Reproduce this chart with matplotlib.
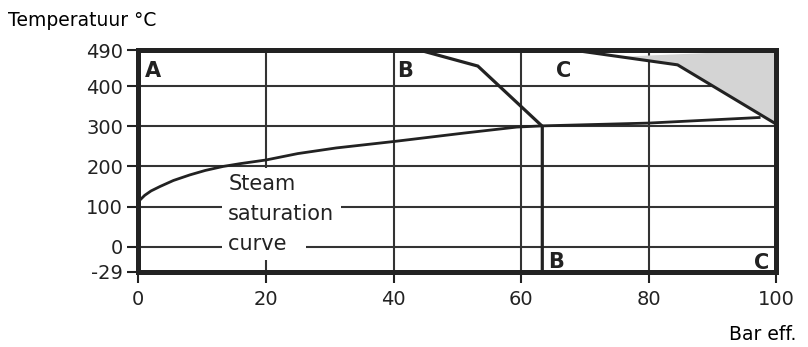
import matplotlib
matplotlib.use('Agg')
import matplotlib.pyplot as plt
import numpy as np

plt.rcParams['axes.unicode_minus'] = False

# ----- data -----
x_ticks = [0, 20, 40, 60, 80, 100]
y_ticks = [-29, 0, 100, 200, 300, 400, 490]

# steam saturation curve (bar eff., degC)
sat_p = [0, 0.3, 1, 2, 3.4, 5.5, 8.1, 10.5, 13.3, 16, 20, 25, 31, 40,
         51, 59.3, 63.3, 80, 97.5]
sat_t = [112, 117, 128, 139, 150, 165, 179, 190, 200, 207, 216, 232, 246,
         262, 283, 298, 301, 308, 322]

# limit line B and C
B_p = [44, 53.2, 63.3, 63.3]
B_t = [490, 450, 300, -29]
C_p = [68, 84.5, 100]
C_t = [490, 453, 305]
gray_start = 75.5   # grey zone starts here under the top border

ink = '#222222'


# the y axis is stretched below 0 (schematic chart)
def fwd(v):
    v = np.asarray(v, float)
    return np.where(v < 0, (v + 29) * 25 / 29, 25 + v * 0.4015)


def inv(p):
    p = np.asarray(p, float)
    return np.where(p < 25, p * 29 / 25 - 29, (p - 25) / 0.4015)


fig = plt.figure(figsize=(8.08, 3.47), dpi=100)
ax = fig.add_axes([0.1712, 0.217, 0.961 - 0.1712, 0.8559 - 0.217])
ax.set_yscale('function', functions=(fwd, inv))
ax.set_xlim(0, 100)
ax.set_ylim(-29, 490)

ax.set_xticks(x_ticks)
ax.set_yticks(y_ticks)
ax.tick_params(axis='both', length=8, width=1.5, color=ink, labelsize=14,
               labelcolor=ink)
ax.tick_params(axis='x', pad=5)
ax.tick_params(axis='y', pad=3)
ax.minorticks_off()

# grid
for xv in x_ticks[1:-1]:
    ax.axvline(xv, color='#333333', lw=1.5, zorder=1)
for yv in y_ticks[1:-1]:
    ax.axhline(yv, color='#333333', lw=1.5, zorder=1)

for s in ax.spines.values():
    s.set_linewidth(3.6)
    s.set_color(ink)
    s.set_zorder(6)

# grey zone above line C
g0 = np.interp(gray_start, C_p, C_t)
poly_x = [gray_start] + [p for p in C_p if p > gray_start] + [100]
poly_y = [g0] + [t for p, t in zip(C_p, C_t) if p > gray_start] + [490]
ax.fill(poly_x, poly_y, color='#d4d4d4', lw=0, zorder=2)

# curves
ax.plot(sat_p, sat_t, color=ink, lw=2.0, zorder=4, solid_capstyle='butt')
ax.plot(B_p, B_t, color=ink, lw=2.3, zorder=4, solid_joinstyle='miter')
ax.plot(C_p, C_t, color=ink, lw=2.2, zorder=4)

# labels
lab = dict(fontsize=15, fontweight='bold', color=ink, va='baseline',
           ha='left', zorder=5)
ax.text(1.1, 423, 'A', **lab)
ax.text(40.5, 423, 'B', **lab)
ax.text(65.5, 423, 'C', **lab)
ax.text(64.2, -25, 'B', **lab)
ax.text(96.5, -26, 'C', **lab)

box = dict(fc='white', ec='none', pad=4.5)
for txt, yv in [('Steam', 141), ('saturation', 66.5), ('curve  ', -3.8)]:
    ax.text(14.1, yv, txt, fontsize=15, color=ink, va='baseline',
            ha='left', bbox=box, zorder=3)

fig.text(0.0099, 0.925, 'Temperatuur °C', fontsize=13.5, color='black',
         va='baseline', ha='left')
fig.text(0.986, 0.02, 'Bar eff.', fontsize=13.5, color='black',
         va='baseline', ha='right')

fig.savefig('out.png', dpi=100)
